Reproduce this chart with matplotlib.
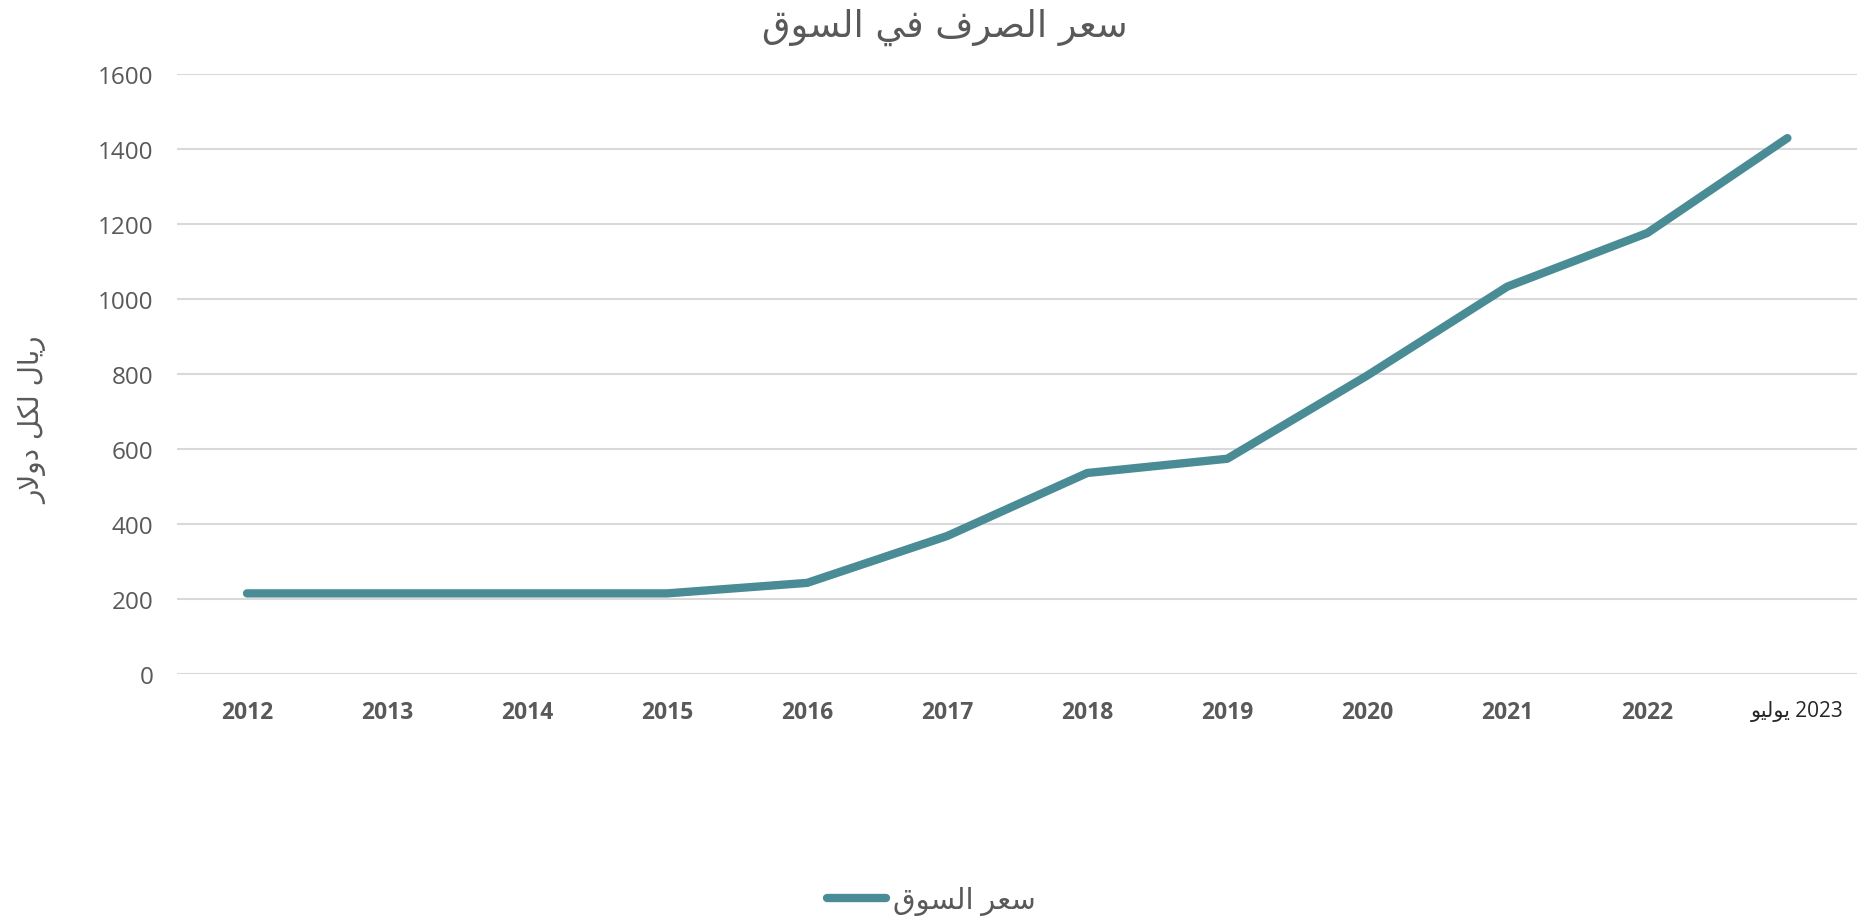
import numpy as np
import matplotlib
matplotlib.use('Agg')
import matplotlib.pyplot as plt
from matplotlib.transforms import ScaledTranslation

# data
years = ['2012', '2013', '2014', '2015', '2016', '2017', '2018', '2019', '2020', '2021', '2022', 'يوليو 2023']
market_rate = [215, 215, 215, 215, 243, 368, 536, 574, 796, 1033, 1176, 1429]
title = 'سعر الصرف في السوق'
ylabel = 'ريال لكل دولار'
series_name = 'سعر السوق'

# arabic presentation forms: isolated, final, initial, medial
FORMS = {
	'ا': ('\uFE8D', '\uFE8E', None, None),
	'د': ('\uFEA9', '\uFEAA', None, None),
	'ر': ('\uFEAD', '\uFEAE', None, None),
	'و': ('\uFEED', '\uFEEE', None, None),
	'س': ('\uFEB1', '\uFEB2', '\uFEB3', '\uFEB4'),
	'ص': ('\uFEB9', '\uFEBA', '\uFEBB', '\uFEBC'),
	'ع': ('\uFEC9', '\uFECA', '\uFECB', '\uFECC'),
	'ف': ('\uFED1', '\uFED2', '\uFED3', '\uFED4'),
	'ق': ('\uFED5', '\uFED6', '\uFED7', '\uFED8'),
	'ك': ('\uFED9', '\uFEDA', '\uFEDB', '\uFEDC'),
	'ل': ('\uFEDD', '\uFEDE', '\uFEDF', '\uFEE0'),
	'ي': ('\uFEF1', '\uFEF2', '\uFEF3', '\uFEF4'),
}

def shape_word(word):
	if word[0] not in FORMS:
		return word
	glyphs = []
	i = 0
	while i < len(word):
		c = word[i]
		prev_joins = i > 0 and FORMS[word[i-1]][2] is not None
		if c == 'ل' and i+1 < len(word) and word[i+1] == 'ا':
			glyphs.append('\uFEFC' if prev_joins else '\uFEFB')
			i += 2
			continue
		iso, fin, ini, med = FORMS[c]
		can_left = ini is not None and i+1 < len(word)
		if prev_joins and can_left:
			g = med
		elif prev_joins:
			g = fin
		elif can_left:
			g = ini
		else:
			g = iso
		glyphs.append(g)
		i += 1
	return ''.join(reversed(glyphs))

def rtl(text):
	return ' '.join(reversed([shape_word(w) for w in text.split(' ')]))

def ltr(text):
	return ' '.join([shape_word(w) for w in text.split(' ')])

plt.rcParams['font.family'] = ['Open Sans', 'DejaVu Sans']
grey = '#595959'
teal = '#4A8C96'

fig = plt.figure(figsize=(18.63, 9.2), dpi=100)
ax = fig.add_axes([0.095, 0.2663, 0.902, 0.6522])

x = np.arange(len(years))
ax.plot(x, market_rate, color=teal, lw=6, solid_capstyle='round', solid_joinstyle='round', label=rtl(series_name))

ax.set_xlim(-0.5, len(years)-0.5)
ax.set_ylim(0, 1600)
ax.set_yticks(np.arange(0, 1601, 200))
ax.grid(axis='y', color='#d9d9d9', lw=1.5)
ax.set_axisbelow(True)
for s in ax.spines.values():
	s.set_visible(False)
ax.tick_params(axis='both', length=0)
ax.tick_params(axis='y', labelsize=17.5, labelcolor=grey, pad=17)
ax.tick_params(axis='x', pad=19)

ax.set_xticks(x)
labels = [ltr(y) for y in years]
ax.set_xticklabels(labels)
for k, t in enumerate(ax.get_xticklabels()):
	if k < len(years)-1:
		t.set_fontsize(16.5)
		t.set_fontweight('bold')
		t.set_color(grey)
	else:
		t.set_fontsize(15)
		t.set_color('#262626')
		# nudge the last label a bit to the right like the original
		t.set_transform(t.get_transform() + ScaledTranslation(0.1, 0, fig.dpi_scale_trans))

fig.text(0.507, 0.97, rtl(title), ha='center', va='center', fontsize=26.5, color=grey, family=['DejaVu Sans'])
fig.text(0.018, 0.543, rtl(ylabel), ha='center', va='center', rotation=90, fontsize=20, color=grey, family=['DejaVu Sans'])

leg = fig.legend(loc='center', bbox_to_anchor=(0.5, 0.02), frameon=False, fontsize=21, handlelength=2.0, handletextpad=0.25)
for t in leg.get_texts():
	t.set_color(grey)

plt.savefig('out.png', dpi=100)
plt.close()
